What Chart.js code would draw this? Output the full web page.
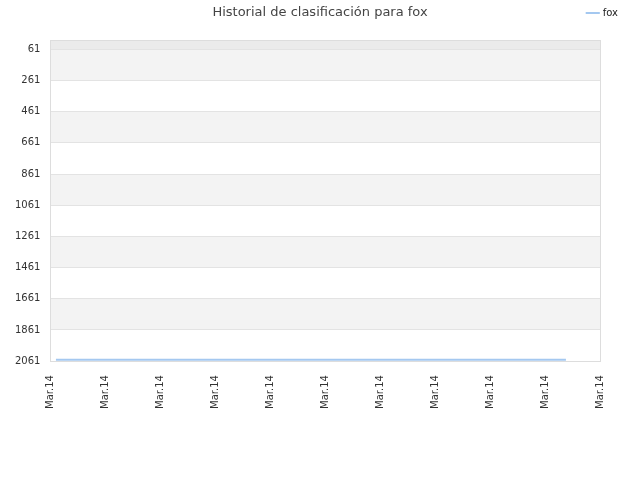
<!DOCTYPE html>
<html>
<head>
<meta charset="utf-8">
<script src="https://cdn.jsdelivr.net/npm/chart.js@4"></script>
<style>
  html, body { margin: 0; padding: 0; background: #fff; }
  #wrap { width: 640px; height: 480px; }
</style>
</head>
<body>
<div id="wrap"><canvas id="rankChart" width="640" height="480"></canvas></div>
<script>
// ranking history, x = position along the date axis
const dateLabels = ['Mar.14', 'Mar.14', 'Mar.14', 'Mar.14', 'Mar.14', 'Mar.14',
                    'Mar.14', 'Mar.14', 'Mar.14', 'Mar.14', 'Mar.14'];
const foxX = [0.1, 1, 2, 3, 4, 5, 6, 7, 8, 9, 9.38];
const foxRank = [2052, 2052, 2052, 2052, 2052, 2052, 2052, 2052, 2052, 2052, 2052];
const rankTicks = [61, 261, 461, 661, 861, 1061, 1261, 1461, 1661, 1861, 2061];
// shaded bands [from, to, colour]
const bands = [
    [1, 61, '#ebebeb'],
    [61, 261, '#f3f3f3'],
    [461, 661, '#f3f3f3'],
    [861, 1061, '#f3f3f3'],
    [1261, 1461, '#f3f3f3'],
    [1661, 1861, '#f3f3f3']
];
const titleText = 'Historial de clasificación para fox';

const bandPlugin = {
    id: 'bands',
    beforeInit: function(chart) {
        // leave room between legend row and plot
        const legend = chart.legend;
        if (!legend) return;
        const fit = legend.fit;
        legend.fit = function() {
            fit.call(this);
            this.height += 12;
        };
    },
    afterLayout: function(chart) {
        // legend sits in the far right corner, past the plot edge
        if (chart.legend) {
            chart.legend.left += 26;
            chart.legend.right += 26;
        }
    },
    beforeDraw: function(chart) {
        const ctx = chart.ctx;
        const area = chart.chartArea;
        const y = chart.scales.y;
        ctx.save();
        bands.forEach(b => {
            const top = y.getPixelForValue(b[0]);
            const bottom = y.getPixelForValue(b[1]);
            ctx.fillStyle = b[2];
            ctx.fillRect(area.left, top, area.right - area.left, bottom - top);
        });
        ctx.restore();
    },
    afterDraw: function(chart) {
        const ctx = chart.ctx;
        const area = chart.chartArea;
        ctx.save();
        ctx.strokeStyle = '#dddddd';
        ctx.lineWidth = 1;
        ctx.strokeRect(Math.round(area.left) + 0.5, Math.round(area.top) + 0.5,
                       Math.round(area.right - area.left), Math.round(area.bottom - area.top));
        // title centred on the whole canvas
        ctx.fillStyle = '#444444';
        ctx.font = '13px "DejaVu Sans"';
        ctx.textAlign = 'center';
        ctx.textBaseline = 'middle';
        ctx.fillText(titleText, chart.width / 2, 13);
        ctx.restore();
    }
};

new Chart(document.getElementById('rankChart'), {
    type: 'line',
    data: {
        datasets: [{
            label: 'fox',
            data: foxX.map((x, i) => ({ x: x, y: foxRank[i] })),
            borderColor: '#a4c8f0',
            backgroundColor: '#a4c8f0',
            borderWidth: 2,
            pointRadius: 0,
            tension: 0
        }]
    },
    options: {
        responsive: false,
        animation: false,
        layout: { padding: { left: 5, right: 40, top: 0, bottom: 65 } },
        plugins: {
            title: { display: false },
            tooltip: { enabled: false },
            legend: {
                position: 'top',
                align: 'end',
                labels: {
                    usePointStyle: true,
                    pointStyle: 'line',
                    boxWidth: 12,
                    color: '#222',
                    font: { family: 'DejaVu Sans', size: 10 },
                    padding: 8
                }
            }
        },
        scales: {
            x: {
                type: 'linear',
                min: 0,
                max: 10,
                grid: { display: false },
                border: { display: false },
                afterBuildTicks: axis => {
                    axis.ticks = dateLabels.map((l, i) => ({ value: i }));
                },
                ticks: {
                    autoSkip: false,
                    minRotation: 90,
                    maxRotation: 90,
                    padding: 6,
                    color: '#333',
                    font: { family: 'DejaVu Sans', size: 10 },
                    callback: (v, i) => dateLabels[i]
                }
            },
            y: {
                reverse: true,
                min: 1,
                max: 2061,
                afterBuildTicks: axis => {
                    axis.ticks = rankTicks.map(v => ({ value: v }));
                },
                grid: { color: '#e3e3e3', drawTicks: false },
                border: { display: false },
                ticks: {
                    padding: 10,
                    color: '#333',
                    font: { family: 'DejaVu Sans', size: 10 },
                    callback: v => String(v)
                }
            }
        }
    },
    plugins: [bandPlugin]
});
</script>
</body>
</html>
